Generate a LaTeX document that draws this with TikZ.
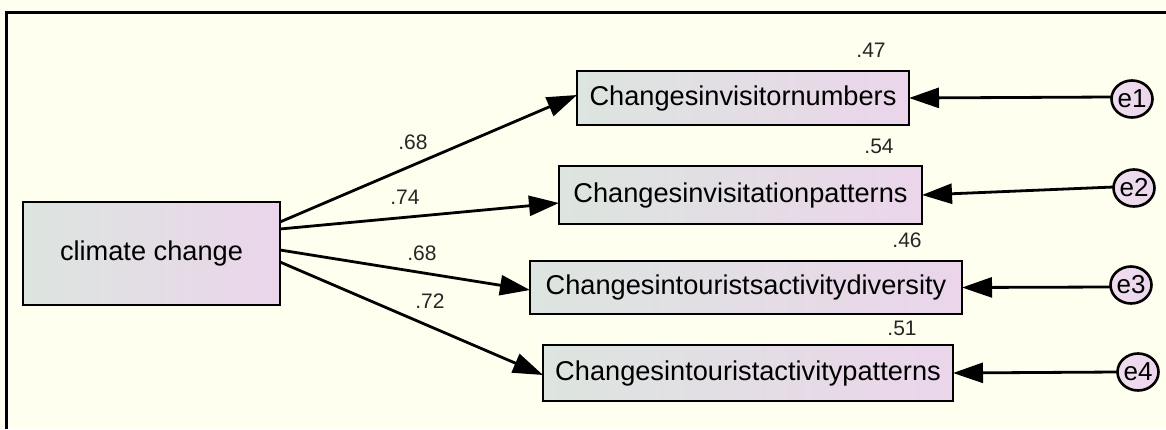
\documentclass[tikz,border=0pt]{standalone}
\usepackage{fontspec}
\setmainfont{Liberation Sans}
\usetikzlibrary{arrows.meta,shapes.geometric,calc}
\definecolor{bg}{RGB}{255,255,240}
\definecolor{shadeL}{RGB}{220,229,223}
\definecolor{shadeR}{RGB}{235,213,235}
\begin{document}
\begin{tikzpicture}[x=0.5pt,y=-0.5pt,
  var/.style={draw=black,line width=1.4pt,rectangle,inner sep=0pt,outer sep=0pt,
    left color=shadeL,right color=shadeR,font=\fontsize{13.6pt}{16pt}\selectfont},
  err/.style={draw=black,line width=1.3pt,ellipse,inner sep=0pt,outer sep=0pt,
    minimum width=20.5pt,minimum height=18.5pt,left color=shadeR!80!white,right color=shadeR,
    font=\fontsize{13pt}{15pt}\selectfont},
  coef/.style={font=\fontsize{10.5pt}{12pt}\selectfont,text=black!85,inner sep=0pt},
  path/.style={line width=1.4pt,-{Triangle[length=15pt,width=10pt]}}
]
\useasboundingbox (0,0) rectangle (1166,429);
\fill[bg] (0,0) rectangle (1166,429);
\draw[line width=1.1pt] (1166,12.5) -- (6.5,12.5) -- (6.5,429);

\node[var,minimum width=128.5pt,minimum height=51.5pt] (cc) at (151.5,253.5) {climate change};
\node[var,minimum width=166pt,minimum height=27pt] (b1) at (743,98) {Changesinvisitornumbers};
\node[var,minimum width=181.5pt,minimum height=29pt] (b2) at (740.5,195) {Changesinvisitationpatterns};
\node[var,minimum width=216pt,minimum height=26.5pt] (b3) at (746,287.5) {Changesintouristsactivitydiversity};
\node[var,minimum width=205pt,minimum height=28pt] (b4) at (748,373) {Changesintouristactivitypatterns};

\node[err] (e1) at (1132,99) {e1};
\node[err] (e2) at (1134,188) {e2};
\node[err] (e3) at (1131,285) {e3};
\node[err] (e4) at (1138,372) {e4};

\draw[path] ([yshift=15.75pt]cc.east) -- ([yshift=1.5pt]b1.west);
\draw[path] ([yshift=12.25pt]cc.east) -- ([yshift=-4pt]b2.west);
\draw[path] ([yshift=1.75pt]cc.east) -- ([yshift=-1.25pt]b3.west);
\draw[path] ([yshift=-4.25pt]cc.east) -- ([yshift=-1pt]b4.west);

\draw[path] ([yshift=1pt]e1.west) -- (b1.east);
\draw[path] ([yshift=0.5pt]e2.west) -- (b2.east);
\draw[path] ([yshift=-1pt]e3.west) -- (b3.east);
\draw[path] (e4.west) -- (b4.east);

\node[coef] (c1) at (413,142) {.68};
\node[coef] (c2) at (405,197) {.74};
\node[coef] (c3) at (422,253) {.68};
\node[coef] (c4) at (430,301) {.72};

\node[coef] (r1) at (871,50) {.47};
\node[coef] (r2) at (879,146) {.54};
\node[coef] (r3) at (907,240) {.46};
\node[coef] (r4) at (902,328) {.51};
\end{tikzpicture}
\end{document}
